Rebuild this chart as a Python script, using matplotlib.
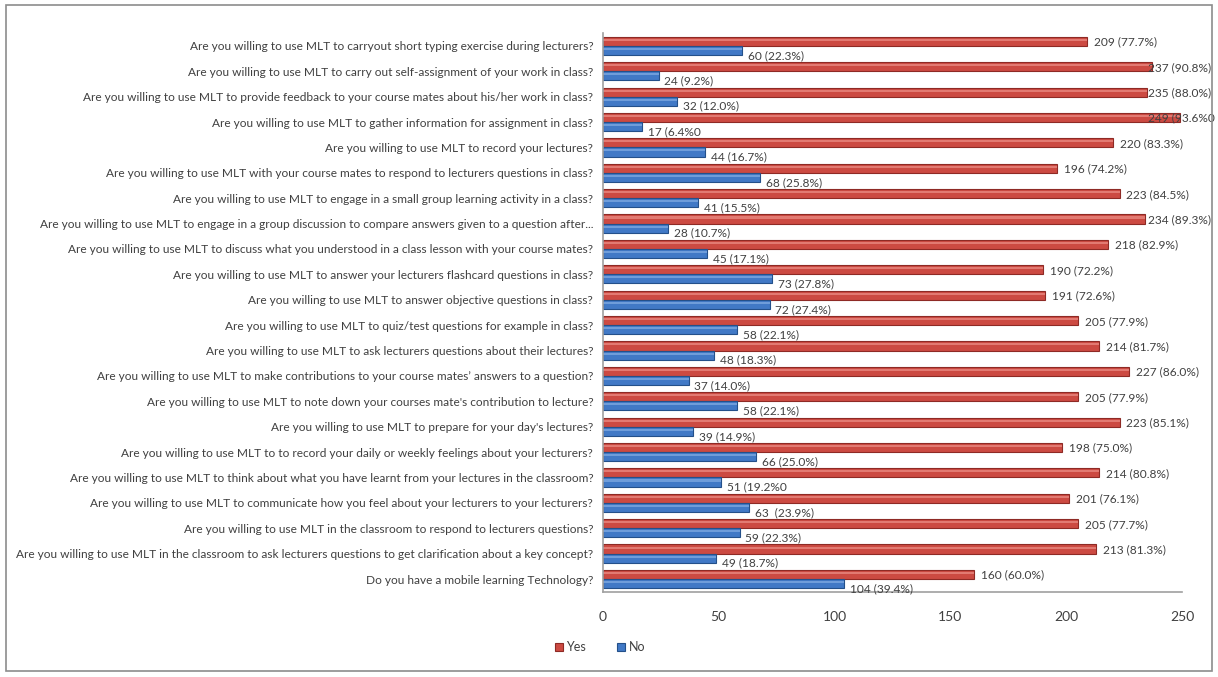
import numpy as np
import matplotlib
matplotlib.use("Agg")
import matplotlib.pyplot as plt
from matplotlib.patches import Rectangle

questions = [
    "Are you willing to use MLT to carryout short typing exercise during lecturers?",
    "Are you willing to use MLT to carry out self-assignment of your work in class?",
    "Are you willing to use MLT to provide feedback to your course mates about his/her work in class?",
    "Are you willing to use MLT to gather information for assignment in class?",
    "Are you willing to use MLT to record your lectures?",
    "Are you willing to use MLT with your course mates to respond to lecturers questions in class?",
    "Are you willing to use MLT to engage in a small group learning activity in a class?",
    "Are you willing to use MLT to engage in a group discussion to compare answers given to a question after...",
    "Are you willing to use MLT to discuss what you understood in a class lesson with your course mates?",
    "Are you willing to use MLT to answer your lecturers flashcard questions in class?",
    "Are you willing to use MLT to answer objective questions in class?",
    "Are you willing to use MLT to quiz/test questions for example in class?",
    "Are you willing to use MLT to ask lecturers questions about their lectures?",
    "Are you willing to use MLT to make contributions to your course mates\u2019 answers to a question?",
    "Are you willing to use MLT to note down your courses mate's contribution to lecture?",
    "Are you willing to use MLT to prepare for your day's lectures?",
    "Are you willing to use MLT to to record your daily or weekly feelings about your lecturers?",
    "Are you willing to use MLT to think about what you have learnt from your lectures in the classroom?",
    "Are you willing to use MLT to communicate how you feel about your lecturers to your lecturers?",
    "Are you willing to use MLT in the classroom to respond to lecturers questions?",
    "Are you willing to use MLT in the classroom to ask lecturers questions to get clarification about a key concept?",
    "Do you have a mobile learning Technology?",
]

yes_vals = [209, 237, 235, 249, 220, 196, 223, 234, 218, 190, 191,
            205, 214, 227, 205, 223, 198, 214, 201, 205, 213, 160]
no_vals = [60, 24, 32, 17, 44, 68, 41, 28, 45, 73, 72,
           58, 48, 37, 58, 39, 66, 51, 63, 59, 49, 104]

yes_text = ["209 (77.7%)", "237 (90.8%)", "235 (88.0%)", "249 (93.6%0", "220 (83.3%)",
            "196 (74.2%)", "223 (84.5%)", "234 (89.3%)", "218 (82.9%)", "190 (72.2%)",
            "191 (72.6%)", "205 (77.9%)", "214 (81.7%)", "227 (86.0%)", "205 (77.9%)",
            "223 (85.1%)", "198 (75.0%)", "214 (80.8%)", "201 (76.1%)", "205 (77.7%)",
            "213 (81.3%)", "160 (60.0%)"]
no_text = ["60 (22.3%)", "24 (9.2%)", "32 (12.0%)", "17 (6.4%0", "44 (16.7%)",
           "68 (25.8%)", "41 (15.5%)", "28 (10.7%)", "45 (17.1%)", "73 (27.8%)",
           "72 (27.4%)", "58 (22.1%)", "48 (18.3%)", "37 (14.0%)", "58 (22.1%)",
           "39 (14.9%)", "66 (25.0%)", "51 (19.2%0", "63  (23.9%)", "59 (22.3%)",
           "49 (18.7%)", "104 (39.4%)"]

series = ["Yes", "No"]
x_ticks = [0, 50, 100, 150, 200, 250]

RED = "#CC4A42"
RED_EDGE = "#8E2A25"
BLUE = "#4179C6"
BLUE_EDGE = "#24508A"
TXT = "#404040"

plt.rcParams["font.family"] = ["Lato", "DejaVu Sans"]

fig = plt.figure(figsize=(12.18, 6.77), dpi=100)
ax = fig.add_axes([0.495, 0.126, 0.4755, 0.825])

y = np.arange(len(questions))
h = 0.36
off = 0.18

ax.barh(y - off, yes_vals, height=h, color=RED, edgecolor=RED_EDGE, linewidth=0.8, label=series[0])
ax.barh(y + off, no_vals, height=h, color=BLUE, edgecolor=BLUE_EDGE, linewidth=0.8, label=series[1])
# light stripe to mimic the 3D look of the original
ax.barh(y - off - 0.06, yes_vals, height=0.08, color="#E27A72", linewidth=0)
ax.barh(y + off - 0.06, no_vals, height=0.08, color="#6F9DDA", linewidth=0)

for i in range(len(questions)):
    ax.text(min(yes_vals[i] + 3, 235.5), y[i] - off + 0.03, yes_text[i],
            fontsize=8.6, color=TXT, va="center", ha="left")
    ax.text(no_vals[i] + 2.5, y[i] + off + 0.2, no_text[i],
            fontsize=8.6, color=TXT, va="center", ha="left")

ax.set_xlim(0, 250)
ax.set_ylim(len(questions) - 0.5, -0.5)
ax.set_yticks(y)
ax.set_yticklabels(questions, fontsize=8.55, color=TXT)
ax.set_xticks(x_ticks)
ax.set_xticklabels([str(t) for t in x_ticks], fontsize=10, color=TXT)
ax.tick_params(axis="both", length=0)
ax.tick_params(axis="x", pad=14)
ax.tick_params(axis="y", pad=7)

for s in ["top", "right"]:
    ax.spines[s].set_visible(False)
for s in ["left", "bottom"]:
    ax.spines[s].set_color("#A0A0A0")
    ax.spines[s].set_linewidth(1.2)

ax.legend(loc="center", bbox_to_anchor=(600 / 1218, 30 / 677), bbox_transform=fig.transFigure,
          ncol=2, frameon=False, fontsize=9, handlelength=0.6, handleheight=0.6,
          columnspacing=2.5, handletextpad=0.3, labelcolor=TXT)

fig.patches.append(Rectangle((6 / 1218, 6 / 677), 1206 / 1218, 666 / 677,
                             transform=fig.transFigure, fill=False,
                             edgecolor="#8C8C8C", linewidth=1.2))

fig.savefig("out.png", dpi=100)
